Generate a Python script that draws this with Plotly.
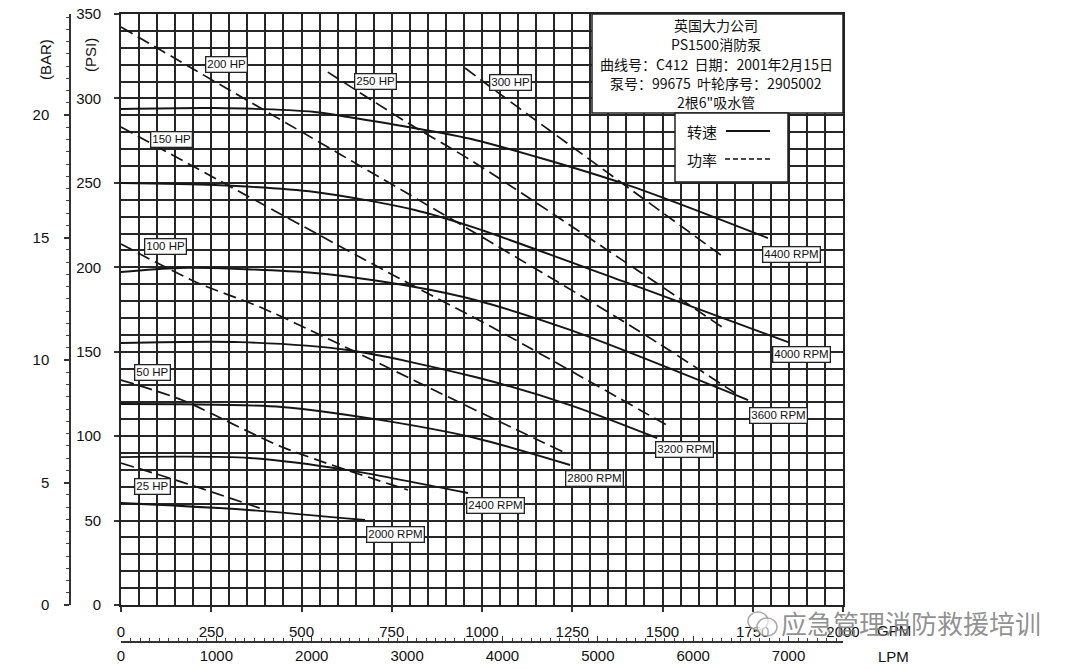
import plotly.graph_objects as go

W, H = 1080, 669

# ---------------- data (flow in GPM, pressure in PSI) ----------------
flow_4400 = [0, 260, 537, 629, 795, 981, 1396, 1792]
head_4400 = [293.7, 294.3, 292.0, 289.0, 283.1, 275.4, 249.3, 217.3]
flow_4000 = [0, 260, 537, 814, 981, 1396, 1848]
head_4000 = [249.9, 248.7, 244.6, 233.9, 223.3, 191.3, 155.7]
flow_3600 = [0, 163, 537, 814, 981, 1244, 1737]
head_3600 = [197.2, 199.6, 196.6, 188.3, 180.6, 162.9, 121.4]
flow_3200 = [0, 330, 629, 981, 1244, 1485]
head_3200 = [155.2, 155.7, 151.0, 135.0, 118.4, 98.9]
flow_2800 = [0, 446, 717, 981, 1244]
head_2800 = [119.0, 117.3, 109.6, 98.9, 82.9]
flow_2400 = [0, 357, 629, 961]
head_2400 = [87.6, 87.1, 79.9, 66.3]
flow_2000 = [0, 352, 676]
head_2000 = [60.4, 56.3, 50.3]

flow_25hp = [0, 169, 399]
head_25hp = [84.1, 72.8, 56.3]
flow_50hp = [0, 169, 446, 795]
head_50hp = [133.2, 121.4, 93.6, 68.1]
flow_100hp = [0, 213, 391, 981, 1225]
head_100hp = [213.8, 190.7, 175.9, 115.5, 90.6]
flow_150hp = [0, 779, 1042, 1521]
head_150hp = [283.1, 192.5, 162.9, 105.4]
flow_200hp = [0, 205, 981, 1430, 1701]
head_200hp = [342.3, 316.8, 220.3, 162.9, 125.5]
flow_250hp = [573, 795, 981, 1665]
head_250hp = [315.6, 285.4, 261.8, 164.6]
flow_300hp = [953, 1072, 1673]
head_300hp = [318.0, 299.1, 205.5]

rpm_names = ["4400 RPM", "4000 RPM", "3600 RPM", "3200 RPM", "2800 RPM", "2400 RPM", "2000 RPM"]
rpm_label_flow = [1856, 1886, 1820, 1562, 1313, 1036, 759]
rpm_label_head = [207.3, 148.1, 112.5, 91.8, 75.2, 59.2, 42.0]
hp_names = ["25 HP", "50 HP", "100 HP", "150 HP", "200 HP", "250 HP", "300 HP"]
hp_label_flow = [86, 86, 122, 139, 291, 706, 1080]
hp_label_head = [69.9, 137.4, 212.6, 275.4, 319.8, 310.3, 309.7]

gpm_ticks = [0, 250, 500, 750, 1000, 1250, 1500, 1750, 2000]
lpm_ticks = [0, 1000, 2000, 3000, 4000, 5000, 6000, 7000]
psi_ticks = [0, 50, 100, 150, 200, 250, 300, 350]
bar_ticks = [0, 5, 10, 15, 20]

info_lines = ["英国大力公司", "PS1500消防泵", "曲线号：C412  日期：2001年2月15日",
              "泵号：99675  叶轮序号：2905002", "2根6\"吸水管"]

GPM_MAX = 2000
PSI_MAX = 350
LPM_PER_GPM = 3.78541
PSI_PER_BAR = 14.5038

# ---------------- layout helpers (pixels -> paper) ----------------
def px(x):
    return x / W

def py(y):
    return 1 - y / H

X0, X1, Y0, Y1 = 121, 843, 14, 605

fig = go.Figure()

rpm_series = [(flow_4400, head_4400), (flow_4000, head_4000), (flow_3600, head_3600),
              (flow_3200, head_3200), (flow_2800, head_2800), (flow_2400, head_2400),
              (flow_2000, head_2000)]
hp_series = [(flow_25hp, head_25hp), (flow_50hp, head_50hp), (flow_100hp, head_100hp),
             (flow_150hp, head_150hp), (flow_200hp, head_200hp), (flow_250hp, head_250hp),
             (flow_300hp, head_300hp)]

for (fx, hy), name in zip(rpm_series, rpm_names):
    fig.add_trace(go.Scatter(x=fx, y=hy, mode="lines", name=name,
                             line=dict(color="#151515", width=1.9, shape="spline", smoothing=0.8),
                             showlegend=False, hoverinfo="skip"))
for (fx, hy), name in zip(hp_series, hp_names):
    fig.add_trace(go.Scatter(x=fx, y=hy, mode="lines", name=name,
                             line=dict(color="#151515", width=1.7, dash="13px,6px",
                                       shape="spline", smoothing=0.8),
                             showlegend=False, hoverinfo="skip"))

# invisible traces to activate secondary axes
fig.add_trace(go.Scatter(x=[0], y=[0], xaxis="x2", yaxis="y", mode="markers",
                         marker=dict(opacity=0), showlegend=False, hoverinfo="skip"))
fig.add_trace(go.Scatter(x=[0], y=[0], xaxis="x", yaxis="y2", mode="markers",
                         marker=dict(opacity=0), showlegend=False, hoverinfo="skip"))

tick_font = dict(family="Liberation Sans, Arial, sans-serif", size=15, color="#111")
grid_col = "#262626"

dom_x = [px(X0), px(X1)]
dom_y = [py(Y1), py(Y0)]

fig.update_layout(
    width=W, height=H,
    margin=dict(l=0, r=0, t=0, b=0, autoexpand=False),
    paper_bgcolor="white", plot_bgcolor="white",
    showlegend=False,
    xaxis=dict(domain=dom_x, range=[0, GPM_MAX], tickvals=gpm_ticks, automargin=False,
               showgrid=True, gridcolor=grid_col, gridwidth=1.7,
               minor=dict(dtick=50, showgrid=True, gridcolor=grid_col, gridwidth=1.5),
               showline=True, linecolor="#222", linewidth=1.6, mirror=True,
               ticks="outside", ticklen=5, tickcolor="#333", tickwidth=1.5,
               tickfont=tick_font, ticklabelstandoff=7, zeroline=False, fixedrange=True),
    yaxis=dict(domain=dom_y, range=[0, PSI_MAX], tickvals=psi_ticks, automargin=False,
               showgrid=True, gridcolor=grid_col, gridwidth=1.7,
               minor=dict(dtick=10, showgrid=True, gridcolor=grid_col, gridwidth=1.5),
               showline=True, linecolor="#222", linewidth=1.6, mirror=True,
               ticks="outside", ticklen=5, tickcolor="#333", tickwidth=1.5,
               tickfont=tick_font, ticklabelstandoff=10, zeroline=False, fixedrange=True),
    xaxis2=dict(overlaying="x", anchor="free", position=py(642), side="bottom",
                automargin=False,
                range=[0, GPM_MAX * LPM_PER_GPM], tickvals=lpm_ticks,
                showgrid=False, showline=True, linecolor="#333", linewidth=1.5,
                ticks="inside", ticklen=5, tickcolor="#333", tickwidth=1.2,
                minor=dict(dtick=100, ticks="inside", ticklen=3, tickcolor="#444", tickwidth=1),
                tickfont=tick_font, zeroline=False, fixedrange=True),
    yaxis2=dict(overlaying="y", anchor="free", position=px(70), side="left",
                automargin=False,
                range=[0, PSI_MAX / PSI_PER_BAR], tickvals=bar_ticks,
                showgrid=False, showline=True, linecolor="#333", linewidth=1.5,
                ticks="outside", ticklen=5, tickcolor="#333", tickwidth=1.5,
                minor=dict(dtick=0.5, ticks="outside", ticklen=3, tickcolor="#444", tickwidth=1),
                tickfont=tick_font, ticklabelstandoff=12, zeroline=False, fixedrange=True),
)

shapes = []
# info box
shapes.append(dict(type="rect", xref="paper", yref="paper", x0=px(592), x1=px(843),
                   y0=py(113), y1=py(14), fillcolor="white",
                   line=dict(color="#222", width=1.5), layer="above"))
# legend box
shapes.append(dict(type="rect", xref="paper", yref="paper", x0=px(675), x1=px(788),
                   y0=py(182), y1=py(113), fillcolor="white",
                   line=dict(color="#222", width=1.5), layer="above"))
shapes.append(dict(type="line", xref="paper", yref="paper", x0=px(726), x1=px(770),
                   y0=py(131), y1=py(131), line=dict(color="#111", width=1.8), layer="above"))
shapes.append(dict(type="line", xref="paper", yref="paper", x0=px(725), x1=px(770),
                   y0=py(159), y1=py(159), line=dict(color="#111", width=1.5, dash="5px,3px"),
                   layer="above"))
# watermark icon (two speech bubbles)
shapes.append(dict(type="circle", xref="paper", yref="paper", x0=px(748), x1=px(768),
                   y0=py(630), y1=py(612), fillcolor="rgba(255,255,255,0.6)",
                   line=dict(color="rgba(150,150,150,0.8)", width=1.5), layer="above"))
shapes.append(dict(type="circle", xref="paper", yref="paper", x0=px(757), x1=px(777),
                   y0=py(636), y1=py(618), fillcolor="rgba(255,255,255,0.6)",
                   line=dict(color="rgba(150,150,150,0.8)", width=1.5), layer="above"))
fig.update_layout(shapes=shapes)

ann = []
cjk = "Noto Sans CJK SC, sans-serif"
for i, t in enumerate(info_lines):
    ann.append(dict(text=t, xref="paper", yref="paper", x=px(716), y=py(25 + 19.3 * i),
                    showarrow=False, xanchor="center", yanchor="middle",
                    font=dict(family=cjk, size=14, color="#111")))
ann.append(dict(text="转速", xref="paper", yref="paper", x=px(702), y=py(131), showarrow=False,
                xanchor="center", yanchor="middle", font=dict(family=cjk, size=15, color="#111")))
ann.append(dict(text="功率", xref="paper", yref="paper", x=px(702), y=py(159), showarrow=False,
                xanchor="center", yanchor="middle", font=dict(family=cjk, size=15, color="#111")))

lab_font = dict(family="Liberation Sans, Arial, sans-serif", size=11.5, color="#111")
for n, fx, hy in zip(rpm_names + hp_names, rpm_label_flow + hp_label_flow,
                     rpm_label_head + hp_label_head):
    ann.append(dict(text=n, x=fx, y=hy, xref="x", yref="y", showarrow=False,
                    xanchor="center", yanchor="middle",
                    font=lab_font, bgcolor="white", bordercolor="#222", borderwidth=1.3,
                    borderpad=1))

ax_font = dict(family="Liberation Sans, Arial, sans-serif", size=15, color="#111")
ann.append(dict(text="(BAR)", xref="paper", yref="paper", x=px(45), y=py(60), textangle=-90,
                xanchor="center", yanchor="middle", showarrow=False, font=ax_font))
ann.append(dict(text="(PSI)", xref="paper", yref="paper", x=px(91), y=py(55), textangle=-90,
                xanchor="center", yanchor="middle", showarrow=False, font=ax_font))
ann.append(dict(text="GPM", xref="paper", yref="paper", x=px(894), y=py(630), showarrow=False,
                xanchor="center", yanchor="middle", font=ax_font))
ann.append(dict(text="LPM", xref="paper", yref="paper", x=px(894), y=py(656), showarrow=False,
                xanchor="center", yanchor="middle", font=ax_font))
# watermark
ann.append(dict(text="应急管理消防救援培训", xref="paper", yref="paper", x=px(911), y=py(622),
                xanchor="center", yanchor="middle", showarrow=False,
                font=dict(family=cjk, size=26, color="rgba(125,125,125,0.85)")))
fig.update_layout(annotations=ann)

fig.write_html("out.html", config={"displayModeBar": False},
               post_script="document.body.style.margin='0';document.body.style.overflow='hidden';")
